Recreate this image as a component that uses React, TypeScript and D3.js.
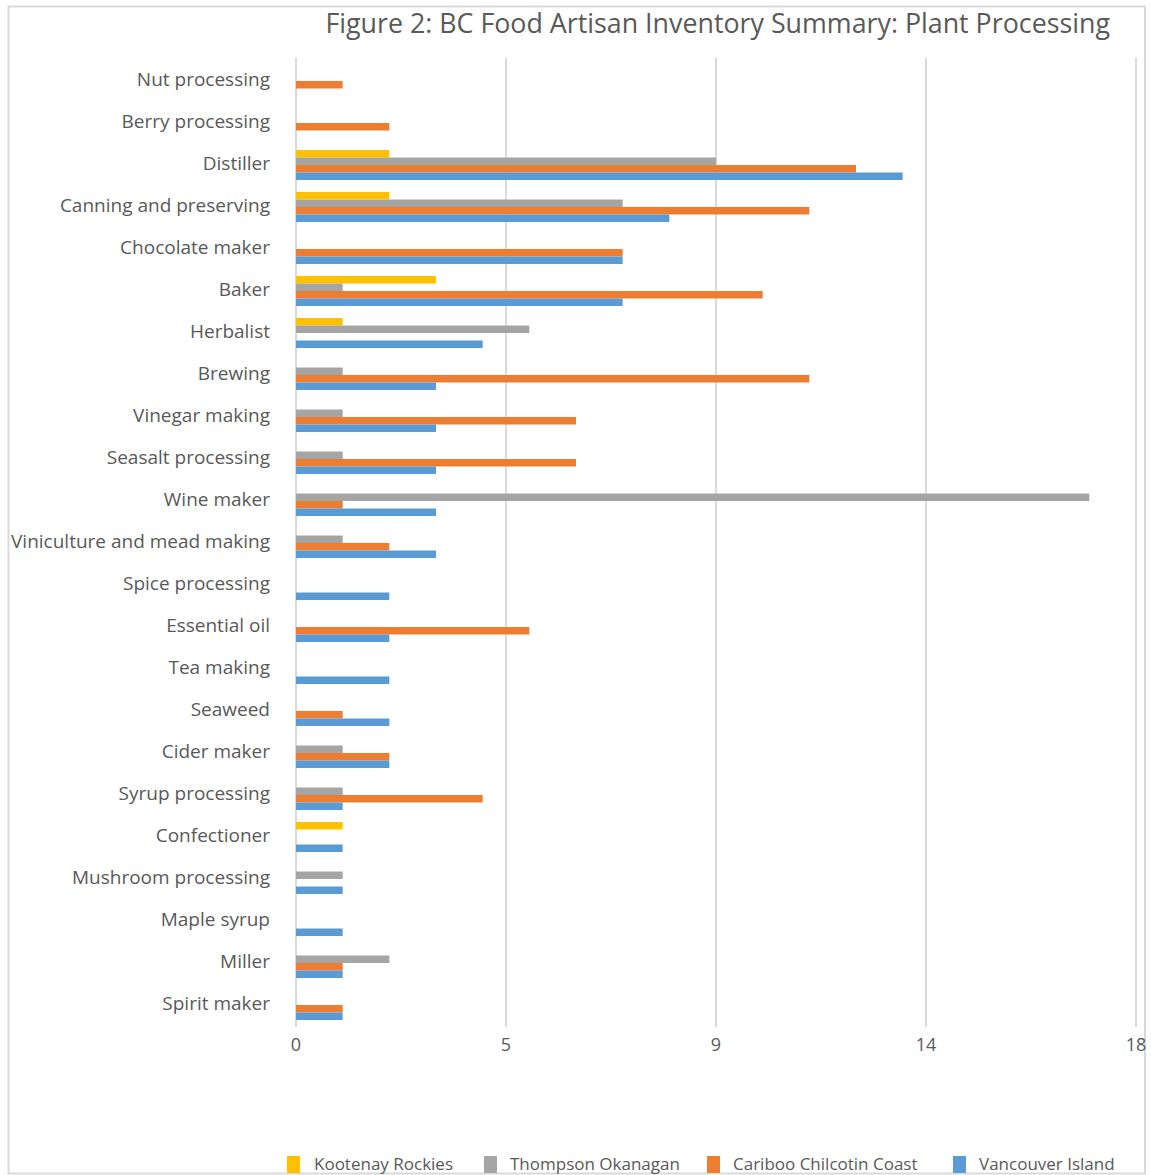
import React from "react";
import * as d3 from "d3";

const categories = [
  "Nut processing",
  "Berry processing",
  "Distiller",
  "Canning and preserving",
  "Chocolate maker",
  "Baker",
  "Herbalist",
  "Brewing",
  "Vinegar making",
  "Seasalt processing",
  "Wine maker",
  "Viniculture and mead making",
  "Spice processing",
  "Essential oil",
  "Tea making",
  "Seaweed",
  "Cider maker",
  "Syrup processing",
  "Confectioner",
  "Mushroom processing",
  "Maple syrup",
  "Miller",
  "Spirit maker",
];

const seriesNames = [
  "Kootenay Rockies",
  "Thompson Okanagan",
  "Cariboo Chilcotin Coast",
  "Vancouver Island",
];

const kootenayRockies = [0, 0, 2, 2, 0, 3, 1, 0, 0, 0, 0, 0, 0, 0, 0, 0, 0, 0, 1, 0, 0, 0, 0];
const thompsonOkanagan = [0, 0, 9, 7, 0, 1, 5, 1, 1, 1, 17, 1, 0, 0, 0, 0, 1, 1, 0, 1, 0, 2, 0];
const caribooChilcotinCoast = [1, 2, 12, 11, 7, 10, 0, 11, 6, 6, 1, 2, 0, 5, 0, 1, 2, 4, 0, 0, 0, 1, 1];
const vancouverIsland = [0, 0, 13, 8, 7, 7, 4, 3, 3, 3, 3, 3, 2, 2, 2, 2, 2, 1, 1, 1, 1, 1, 1];

const seriesValues = [kootenayRockies, thompsonOkanagan, caribooChilcotinCoast, vancouverIsland];
const seriesColors = ["#FFC000", "#A5A5A5", "#ED7D31", "#5B9BD5"];

const xTicks = [0, 4.5, 9, 13.5, 18];
const title = "Figure 2: BC Food Artisan Inventory Summary: Plant Processing";

const W = 1151;
const H = 1175;
const FONT = "'Open Sans', Lato, sans-serif";
const TEXT = "#595959";
const GRID = "#d9d9d9";

export default function App() {
  const x = d3.scaleLinear().domain([0, 18]).range([296, 1136]);
  const y = d3.scaleBand<string>().domain(categories).range([60, 1026]).padding(0);
  const bw = y.bandwidth();
  const groupH = bw * (30 / 42);
  const y1 = d3
    .scaleBand<string>()
    .domain(seriesNames)
    .range([(bw - groupH) / 2, (bw + groupH) / 2])
    .padding(0);

  const legendSquareX = [287, 484, 707, 953];
  const legendTextX = [314, 510, 733, 979];

  return (
    <svg
      width={W}
      height={H}
      style={{ position: "absolute", left: 0, top: 0, background: "#fff" }}
      fontFamily={FONT}
    >
      <rect x={0} y={0} width={W} height={H} fill="#fff" />
      <rect x={8.5} y={6.5} width={1136.5} height={1167} fill="none" stroke={GRID} strokeWidth={2} />
      <text x={1110} y={33} textAnchor="end" fontSize={26.8} fill={TEXT}>
        {title}
      </text>

      {xTicks.map((t) => (
        <g key={t}>
          <line x1={x(t)} x2={x(t)} y1={58} y2={1027} stroke={GRID} strokeWidth={2} />
          <text x={x(t)} y={1051} textAnchor="middle" fontSize={18} fill={TEXT}>
            {Math.round(t)}
          </text>
        </g>
      ))}

      {categories.map((c, i) => (
        <g key={c} transform={`translate(0,${y(c)})`}>
          <text x={270} y={bw / 2 + 5} textAnchor="end" fontSize={19} fill={TEXT}>
            {c}
          </text>
          {seriesNames.map((s, k) => {
            const v = seriesValues[k][i];
            if (!v) return null;
            return (
              <rect
                key={s}
                x={x(0)}
                y={y1(s)}
                width={x(v) - x(0)}
                height={y1.bandwidth()}
                fill={seriesColors[k]}
              />
            );
          })}
        </g>
      ))}

      {seriesNames.map((s, k) => (
        <g key={s}>
          <rect x={legendSquareX[k]} y={1156} width={13} height={17} fill={seriesColors[k]} />
          <text x={legendTextX[k]} y={1170} fontSize={17} fill={TEXT}>
            {s}
          </text>
        </g>
      ))}
    </svg>
  );
}
